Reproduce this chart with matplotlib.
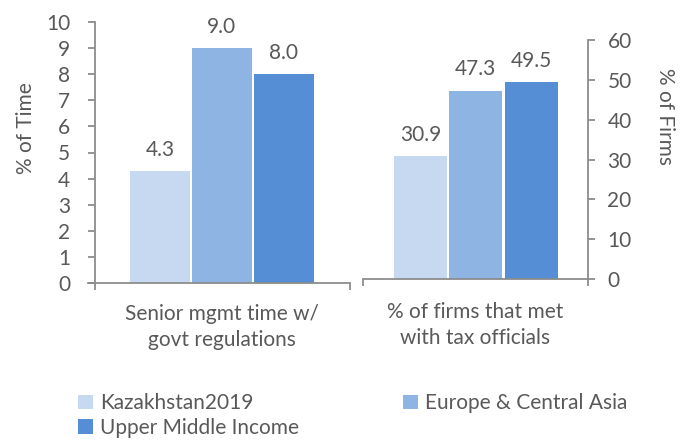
import matplotlib
matplotlib.use('Agg')
import matplotlib.pyplot as plt
from matplotlib.patches import Patch

# Data
series = ['Kazakhstan2019', 'Europe & Central Asia', 'Upper Middle Income']
time_values = [4.3, 9.0, 8.0]
firm_values = [30.9, 47.3, 49.5]
left_category = 'Senior mgmt time w/\ngovt regulations'
right_category = '% of firms that met\nwith tax officials'

colors = ['#C6D9F0', '#8EB4E3', '#558ED5']
text_color = '#595959'
axis_color = '#8C8C8C'

plt.rcParams['font.family'] = ['Lato', 'DejaVu Sans']
plt.rcParams['font.size'] = 15

fig = plt.figure(figsize=(6.83, 4.41), dpi=100)
W, H = 683, 441


def px_axes(x0, x1, ytop, ybot):
    return fig.add_axes([x0 / W, 1 - ybot / H, (x1 - x0) / W, (ybot - ytop) / H])


ax1 = px_axes(88, 350, 22, 283)
ax2 = px_axes(363, 588, 40, 279)

# Left panel
centers1 = [-0.225, 0.011, 0.248]
bars1 = ax1.bar(centers1, time_values, width=0.229, color=colors)
ax1.set_xlim(-0.5, 0.5)
ax1.set_ylim(0, 10)
ax1.set_yticks(range(0, 11))
ax1.spines['left'].set_position(('data', -0.473))
ax1.spines['top'].set_visible(False)
ax1.spines['right'].set_visible(False)
ax1.set_xticks([-0.473, 0.5])
ax1.set_xticklabels([])
ax1.tick_params(axis='y', length=5, pad=13, colors=text_color)
ax1.tick_params(axis='x', length=5, colors=axis_color)
for bar, v in zip(bars1, time_values):
    ax1.annotate(f'{v:.1f}', (bar.get_x() + bar.get_width() / 2, v),
                 xytext=(0, 8), textcoords='offset points',
                 ha='center', va='bottom', color=text_color)
ax1.set_ylabel('% of Time', color=text_color)
ax1.yaxis.set_label_coords(-0.198, 0.594)
ax1.text(0.011, -0.169, left_category, transform=ax1.get_xaxis_transform(),
         ha='center', va='center', color=text_color, linespacing=1.35)

# Right panel
centers2 = [-0.244, 0.0, 0.249]
bars2 = ax2.bar(centers2, firm_values, width=0.236, color=colors)
ax2.set_xlim(-0.5, 0.5)
ax2.set_ylim(0, 60)
ax2.set_yticks(range(0, 61, 10))
ax2.spines['left'].set_visible(False)
ax2.spines['top'].set_visible(False)
ax2.yaxis.tick_right()
ax2.yaxis.set_label_position('right')
ax2.set_xticks([-0.5, 0.5])
ax2.set_xticklabels([])
ax2.tick_params(axis='y', length=5, pad=9, colors=text_color)
ax2.tick_params(axis='x', length=5, colors=axis_color)
for bar, v in zip(bars2, firm_values):
    ax2.annotate(f'{v:.1f}', (bar.get_x() + bar.get_width() / 2, v),
                 xytext=(0, 8), textcoords='offset points',
                 ha='center', va='bottom', color=text_color)
ax2.set_ylabel('% of Firms', color=text_color, rotation=270, va='center')
ax2.yaxis.set_label_coords(1.342, 0.682)
ax2.text(0.0, -0.192, right_category, transform=ax2.get_xaxis_transform(),
         ha='center', va='center', color=text_color, linespacing=1.35)

for ax in (ax1, ax2):
    for s in ax.spines.values():
        s.set_color(axis_color)
        s.set_linewidth(1.3)
    ax.tick_params(axis='y', color=axis_color, width=1.3)
    ax.tick_params(axis='x', width=1.3)

# legend filled column-wise, so order K, U | E gives rows K E / U
handles = [Patch(facecolor=colors[i], label=series[i]) for i in (0, 2, 1)]
fig.legend(handles=handles, loc='upper left', bbox_to_anchor=(68 / W, 1 - 383 / H),
           ncol=2, frameon=False, handlelength=0.7, handleheight=0.7,
           handletextpad=0.35, columnspacing=5.0, labelspacing=0.2,
           borderpad=0, labelcolor=text_color)

fig.savefig('out.png', dpi=100)
